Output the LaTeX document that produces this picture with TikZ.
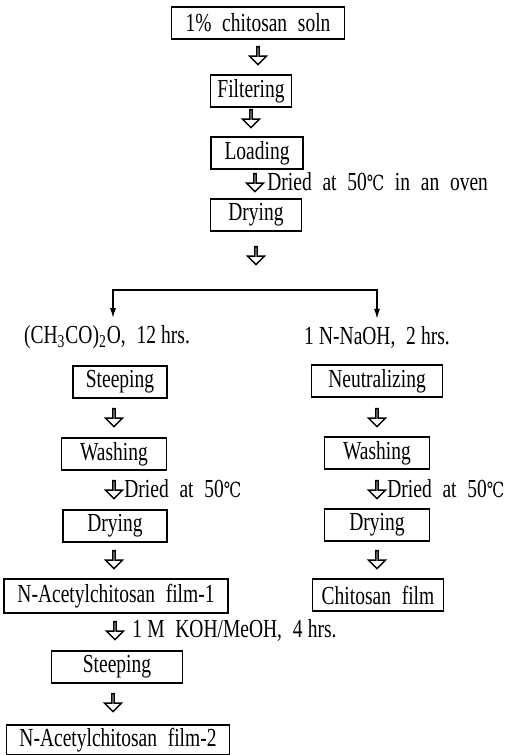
\documentclass[tikz,border=0pt]{standalone}
\usepackage{fontspec}
\setmainfont{Liberation Serif}[FakeStretch=0.75, WordSpace=2.2]
\newfontfamily\degfont{DejaVu Serif}[Scale=0.8, FakeStretch=0.75]
\usetikzlibrary{shapes.arrows,arrows.meta}
\newcommand{\degC}{{\degfont ℃}}
\newcommand{\tsp}{\hspace{0.2em}}

\begin{document}
\begin{tikzpicture}[x=0.5pt, y=-0.5pt, font=\fontsize{13}{15}\selectfont,
	box/.style={draw=black, line width=0.7pt, minimum height=16pt, inner sep=0pt},
	down/.style={draw=black, line width=0.7pt, single arrow, rotate=-90, minimum height=9pt, minimum width=8.5pt, single arrow head extend=2.2pt, inner sep=0pt},
	note/.style={black, anchor=west, inner sep=0pt},
	fork/.style={draw=black, line width=0.7pt, {Latex[length=5pt,width=3pt]}-{Latex[length=5pt,width=3pt]}}]
	\useasboundingbox (0,0) rectangle (504,755);
	\node[box, minimum width=86.5pt] (soln) at (258,23) {1\% chitosan soln};
	\node[down] (d1) at (258,55) {};
	\node[box, minimum width=40.5pt] (filter) at (251,91) {Filtering};
	\node[down] (d2) at (251,118) {};
	\node[box, minimum width=46pt] (load) at (257,153) {Loading};
	\node[down] (d3) at (255,182) {};
	\node[note] (oven) at (267,182) {Dried at 50\degC{} in an oven};
	\node[box, minimum width=45.5pt] (dry) at (256,215) {Drying};
	\node[down] (d4) at (256,255) {};
	\coordinate (fork-l) at (113,290);
	\coordinate (fork-r) at (377,290);
	\node[black] (acet) at (107,337) {(CH\textsubscript{3}CO)\textsubscript{2}O, 12\tsp hrs.};
	\node[black] (naoh) at (377,337) {1\tsp N-NaOH, 2\tsp hrs.};
	\draw[fork] (fork-l |- acet.north) -- (fork-l) -- (fork-r) -- (fork-r |- naoh.north);
	\node[box, minimum width=47pt] (steep) at (120,382) {Steeping};
	\node[box, minimum width=65.5pt] (neut) at (377,381) {Neutralizing};
	\node[down] (l1) at (114,417) {};
	\node[down] (r1) at (377,417) {};
	\node[box, minimum width=52.5pt] (wash-l) at (114,454) {Washing};
	\node[box, minimum width=52.5pt] (wash-r) at (377,453) {Washing};
	\node[down] (l2) at (114,489) {};
	\node[note] (warm-l) at (124,489) {Dried at 50\degC};
	\node[down] (r2) at (377,489) {};
	\node[note] (warm-r) at (387,489) {Dried at 50\degC};
	\node[box, minimum width=52pt] (dry-l) at (115,526) {Drying};
	\node[box, minimum width=52.5pt] (dry-r) at (377,525) {Drying};
	\node[down] (l3) at (114,559) {};
	\node[down] (r3) at (377,559) {};
	\node[box, minimum width=112pt, minimum height=17pt] (film1) at (116,596) {N-Acetylchitosan film-1};
	\node[box, minimum width=65.5pt] (chit) at (378,595) {Chitosan film};
	\node[down] (l4) at (115,630) {};
	\node[note] (koh) at (132,630) {1\tsp M KOH/MeOH, 4\tsp hrs.};
	\node[box, minimum width=65.5pt] (steep2) at (117,667) {Steeping};
	\node[down] (l5) at (113,702) {};
	\node[box, minimum width=111.5pt, minimum height=15pt] (film2) at (118,740) {N-Acetylchitosan film-2};
\end{tikzpicture}
\end{document}
